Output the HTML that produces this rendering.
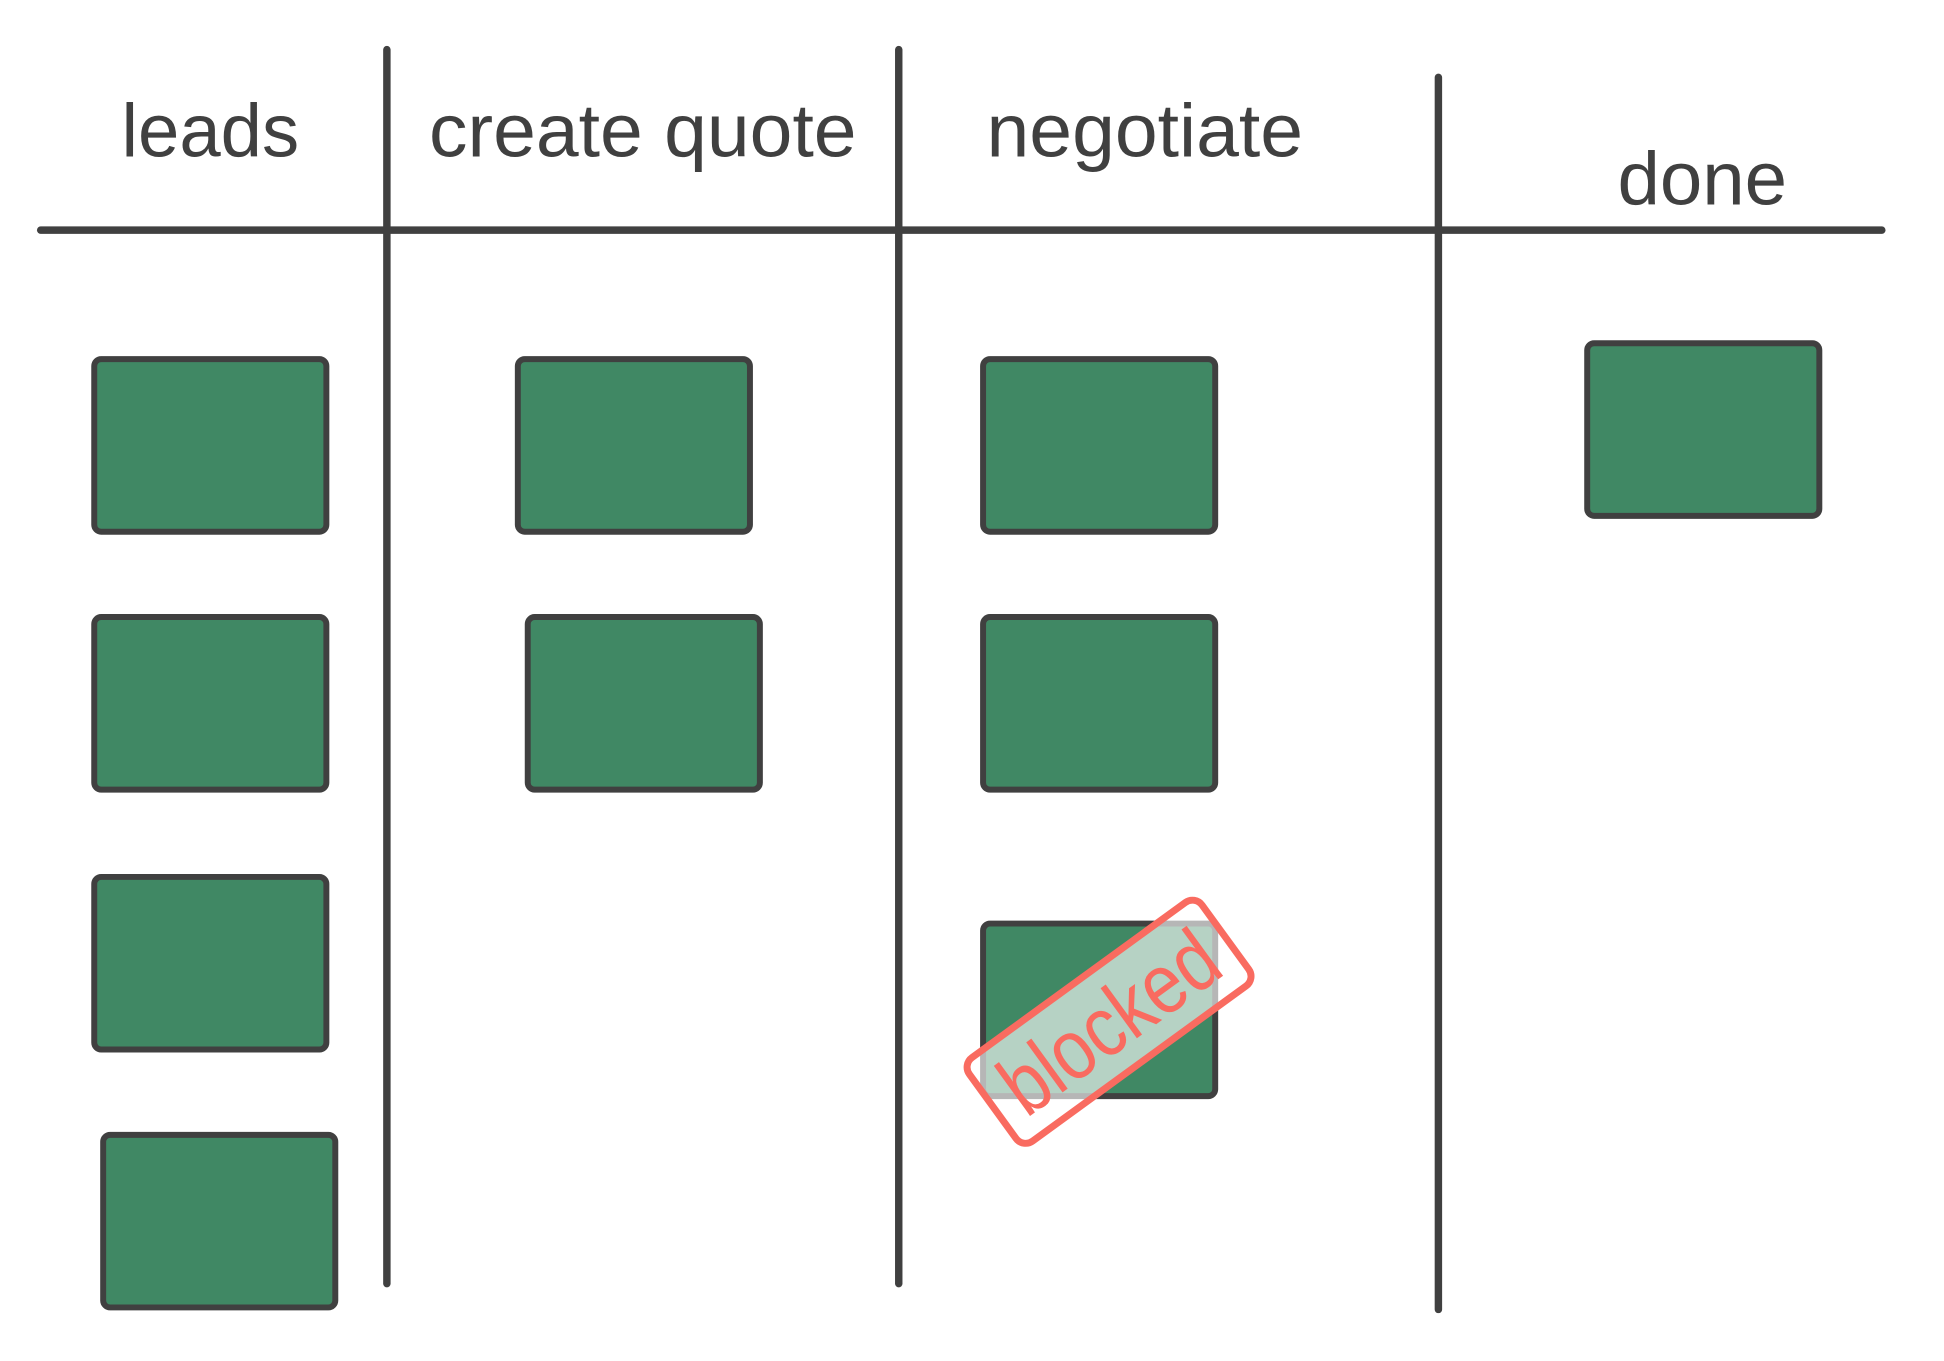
<!DOCTYPE html>
<html><head><meta charset="utf-8"><style>html,body{margin:0;padding:0;background:#fff}svg{display:block}</style></head>
<body>
<svg width="1944" height="1361" viewBox="0 0 1944 1361" xmlns="http://www.w3.org/2000/svg">
<g transform="scale(0.992)">
<g stroke="#404040" stroke-width="7.5" stroke-linecap="round" fill="none">
<line x1="41" y1="232" x2="1897" y2="232"/>
<line x1="390" y1="50" x2="390" y2="1294"/>
<line x1="906" y1="50" x2="906" y2="1294"/>
<line x1="1450" y1="78" x2="1450" y2="1320"/>
</g>
<g font-family="Liberation Sans, sans-serif" font-size="76" fill="#404040" text-anchor="middle">
<text x="212" y="158" textLength="179" lengthAdjust="spacingAndGlyphs">leads</text>
<text x="648" y="158" textLength="431" lengthAdjust="spacingAndGlyphs">create quote</text>
<text x="1154" y="158" textLength="319" lengthAdjust="spacingAndGlyphs">negotiate</text>
<text x="1716" y="206" textLength="171" lengthAdjust="spacingAndGlyphs">done</text>
</g>
<g fill="#408864" stroke="#404040" stroke-width="6">
<rect x="95" y="362" width="234" height="174" rx="7"/>
<rect x="95" y="622" width="234" height="174" rx="7"/>
<rect x="95" y="884" width="234" height="174" rx="7"/>
<rect x="104" y="1144" width="234" height="174" rx="7"/>
<rect x="522" y="362" width="234" height="174" rx="7"/>
<rect x="532" y="622" width="234" height="174" rx="7"/>
<rect x="991" y="362" width="234" height="174" rx="7"/>
<rect x="991" y="622" width="234" height="174" rx="7"/>
<rect x="1600" y="346" width="234" height="174" rx="7"/>
<rect x="991" y="931" width="234" height="174" rx="7"/>
</g>
<g transform="translate(1118 1030) rotate(-36)">
<rect x="-145" y="-52" width="290" height="104" rx="12" fill="#fff" fill-opacity="0.62" stroke="#f96b60" stroke-width="7"/>
<text x="0" y="30" text-anchor="middle" font-family="Liberation Sans, sans-serif" font-size="86" fill="#f96b60" textLength="250" lengthAdjust="spacingAndGlyphs">blocked</text>
</g>
</g>
</svg>
</body></html>
